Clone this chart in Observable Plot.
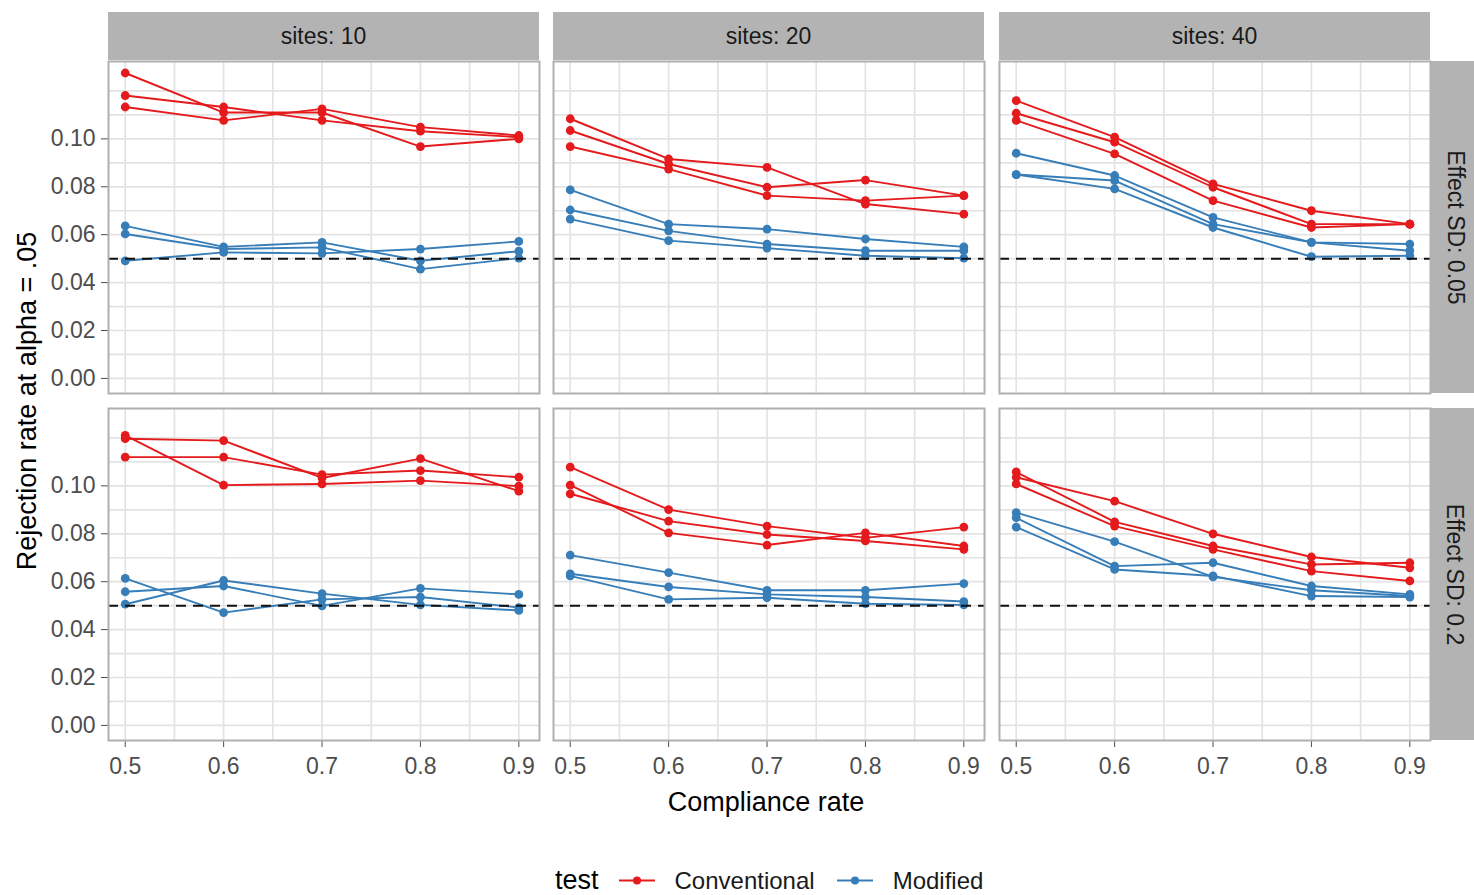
<!DOCTYPE html>
<html>
<head>
<meta charset="utf-8">
<script src="https://cdn.jsdelivr.net/npm/d3@7"></script>
<script src="https://cdn.jsdelivr.net/npm/@observablehq/plot@0.6"></script>
<style>
  html, body { margin: 0; padding: 0; background: #fff; }
  #root { position: relative; width: 1474px; height: 895px; overflow: hidden; background: #fff;
          font-family: Arial, "Liberation Sans", sans-serif; }
  .strip { position: absolute; background: #b3b3b3; color: #1a1a1a; font-size: 23px;
           display: flex; align-items: center; justify-content: center; white-space: nowrap; }
  .vtext { transform: rotate(90deg); }
  .title { position: absolute; color: #000; font-size: 27px; white-space: nowrap; line-height: 1; }
  .legend { position: absolute; display: flex; align-items: center; white-space: nowrap; line-height: 1; }
  .legend .lt { font-size: 27px; color: #000; margin-right: 20px; }
  .legend .ll { font-size: 24px; color: #1a1a1a; margin-left: 20px; margin-right: 22px; }
</style>
</head>
<body>
<div id="root"></div>
<script>
// ---------------- data ----------------
const compliance = [0.5, 0.6, 0.7, 0.8, 0.9];
const sitesLevels = [10, 20, 40];
const effectSDLevels = [0.05, 0.2];
const tests = ["Conventional", "Modified"];
const testColors = ["#e41a1c", "#377eb8"];
const nominalAlpha = 0.05;

const xTicks = [0.5, 0.6, 0.7, 0.8, 0.9];
const xGrid = [0.5, 0.55, 0.6, 0.65, 0.7, 0.75, 0.8, 0.85, 0.9];
const yTicks = [0, 0.02, 0.04, 0.06, 0.08, 0.10];
const yGrid = [0, 0.01, 0.02, 0.03, 0.04, 0.05, 0.06, 0.07, 0.08, 0.09, 0.10, 0.11, 0.12];

// Effect SD 0.05
const conv_s10_sd005 = [
  [0.1275, 0.1110, 0.1110, 0.0968, 0.1000],
  [0.1181, 0.1133, 0.1077, 0.1032, 0.1007],
  [0.1133, 0.1077, 0.1125, 0.1049, 0.1014]];
const mod_s10_sd005 = [
  [0.0637, 0.0549, 0.0568, 0.0491, 0.0531],
  [0.0603, 0.0540, 0.0547, 0.0456, 0.0502],
  [0.0491, 0.0526, 0.0522, 0.0540, 0.0572]];
const conv_s20_sd005 = [
  [0.1084, 0.0916, 0.0881, 0.0728, 0.0686],
  [0.1035, 0.0895, 0.0798, 0.0828, 0.0763],
  [0.0968, 0.0874, 0.0763, 0.0742, 0.0763]];
const mod_s20_sd005 = [
  [0.0787, 0.0644, 0.0623, 0.0582, 0.0549],
  [0.0703, 0.0616, 0.0561, 0.0533, 0.0533],
  [0.0665, 0.0575, 0.0544, 0.0512, 0.0502]];
const conv_s40_sd005 = [
  [0.1160, 0.1007, 0.0812, 0.0700, 0.0644],
  [0.1107, 0.0986, 0.0798, 0.0644, 0.0644],
  [0.1077, 0.0937, 0.0742, 0.0630, 0.0644]];
const mod_s40_sd005 = [
  [0.0940, 0.0847, 0.0672, 0.0568, 0.0561],
  [0.0851, 0.0826, 0.0644, 0.0568, 0.0533],
  [0.0851, 0.0791, 0.0630, 0.0508, 0.0512]];
// Effect SD 0.2
const conv_s10_sd02 = [
  [0.1211, 0.1003, 0.1008, 0.1022, 0.0999],
  [0.1197, 0.1189, 0.1033, 0.1114, 0.0978],
  [0.1120, 0.1120, 0.1047, 0.1064, 0.1036]];
const mod_s10_sd02 = [
  [0.0614, 0.0471, 0.0526, 0.0536, 0.0492],
  [0.0558, 0.0582, 0.0499, 0.0572, 0.0547],
  [0.0506, 0.0605, 0.0550, 0.0503, 0.0480]];
const conv_s20_sd02 = [
  [0.1078, 0.0901, 0.0832, 0.0783, 0.0828],
  [0.1003, 0.0804, 0.0753, 0.0804, 0.0749],
  [0.0967, 0.0853, 0.0797, 0.0770, 0.0735]];
const mod_s20_sd02 = [
  [0.0711, 0.0638, 0.0564, 0.0564, 0.0592],
  [0.0633, 0.0578, 0.0547, 0.0536, 0.0517],
  [0.0624, 0.0526, 0.0533, 0.0508, 0.0503]];
const conv_s40_sd02 = [
  [0.1058, 0.0850, 0.0749, 0.0672, 0.0679],
  [0.1036, 0.0936, 0.0800, 0.0703, 0.0658],
  [0.1008, 0.0832, 0.0735, 0.0644, 0.0603]];
const mod_s40_sd02 = [
  [0.0888, 0.0767, 0.0620, 0.0564, 0.0540],
  [0.0867, 0.0665, 0.0679, 0.0582, 0.0547],
  [0.0828, 0.0651, 0.0624, 0.0540, 0.0536]];

const panelSeries = {
  "10|0.05": [conv_s10_sd005, mod_s10_sd005],
  "20|0.05": [conv_s20_sd005, mod_s20_sd005],
  "40|0.05": [conv_s40_sd005, mod_s40_sd005],
  "10|0.2":  [conv_s10_sd02, mod_s10_sd02],
  "20|0.2":  [conv_s20_sd02, mod_s20_sd02],
  "40|0.2":  [conv_s40_sd02, mod_s40_sd02]
};

// ---------------- layout ----------------
const root = document.getElementById("root");
const colLeft = [108, 553, 999];
const rowTop = [61, 408];
const panelW = 431, panelH = 332;

function rowsFor(sites, sd) {
  const sets = panelSeries[sites + "|" + sd];
  const out = [];
  sets.forEach((set, ti) => {
    set.forEach((vals, k) => {
      vals.forEach((v, i) => {
        out.push({test: tests[ti], series: tests[ti] + "-" + k, x: compliance[i], y: v});
      });
    });
  });
  return out;
}

effectSDLevels.forEach((sd, r) => {
  sitesLevels.forEach((sites, c) => {
    const ml = c === 0 ? 70 : 2, mr = 2, mt = 2, mb = r === 1 ? 45 : 2;
    const data = rowsFor(sites, sd);
    const chart = Plot.plot({
      width: panelW + ml + mr,
      height: panelH + mt + mb,
      marginLeft: ml, marginRight: mr, marginTop: mt, marginBottom: mb,
      style: {background: "transparent", overflow: "visible", fontSize: "23px",
              fontFamily: 'Arial, "Liberation Sans", sans-serif', color: "#4d4d4d"},
      x: {domain: [0.483, 0.921], ticks: xTicks, tickFormat: d3.format(".1f"),
          axis: r === 1 ? "bottom" : null, label: null, tickSize: 7, tickPadding: 10},
      y: {domain: [-0.0063, 0.1323], ticks: yTicks, tickFormat: d3.format(".2f"),
          axis: c === 0 ? "left" : null, label: null, tickSize: 7, tickPadding: 6},
      color: {domain: tests, range: testColors},
      marks: [
        Plot.ruleY(yGrid, {stroke: "#e3e3e3", strokeWidth: 1.7}),
        Plot.ruleX(xGrid, {stroke: "#e3e3e3", strokeWidth: 1.7}),
        Plot.line(data, {x: "x", y: "y", z: "series", stroke: "test", strokeWidth: 1.9}),
        Plot.dot(data, {x: "x", y: "y", fill: "test", r: 4.4}),
        Plot.ruleY([nominalAlpha], {stroke: "#111", strokeWidth: 2, strokeDasharray: "10,7"}),
        Plot.frame({stroke: "#b0b0b0", strokeWidth: 2})
      ]
    });
    chart.style.position = "absolute";
    chart.style.left = (colLeft[c] - ml) + "px";
    chart.style.top = (rowTop[r] - mt) + "px";
    chart.style.maxWidth = "none";
    root.appendChild(chart);
  });
});

// top strips
sitesLevels.forEach((s, c) => {
  const d = document.createElement("div");
  d.className = "strip";
  d.style.left = colLeft[c] + "px"; d.style.top = "12px";
  d.style.width = panelW + "px"; d.style.height = "48px";
  d.textContent = "sites: " + s;
  root.appendChild(d);
});
// right strips
effectSDLevels.forEach((sd, r) => {
  const d = document.createElement("div");
  d.className = "strip";
  d.style.left = "1431px"; d.style.top = rowTop[r] + "px";
  d.style.width = "48px"; d.style.height = panelH + "px";
  const t = document.createElement("span");
  t.className = "vtext"; t.style.display = "inline-block";
  t.textContent = "Effect SD: " + sd;
  d.appendChild(t);
  root.appendChild(d);
});

// axis titles
const yt = document.createElement("div");
yt.className = "title";
yt.textContent = "Rejection rate at alpha = .05";
yt.style.left = "27px"; yt.style.top = "401px";
yt.style.transform = "translate(-50%, -50%) rotate(-90deg)";
root.appendChild(yt);

const xt = document.createElement("div");
xt.className = "title";
xt.textContent = "Compliance rate";
xt.style.left = "766px"; xt.style.top = "802px";
xt.style.transform = "translate(-50%, -50%)";
root.appendChild(xt);

// legend
const lg = document.createElement("div");
lg.className = "legend";
lg.style.left = "555px"; lg.style.top = "880px";
lg.style.transform = "translateY(-50%)";
let html = '<span class="lt">test</span>';
tests.forEach((t, i) => {
  html += '<svg width="36" height="16"><line x1="0" x2="36" y1="8" y2="8" stroke="' + testColors[i] +
          '" stroke-width="2"/><circle cx="18" cy="8" r="4" fill="' + testColors[i] + '"/></svg>' +
          '<span class="ll">' + t + '</span>';
});
lg.innerHTML = html;
root.appendChild(lg);
</script>
</body>
</html>
